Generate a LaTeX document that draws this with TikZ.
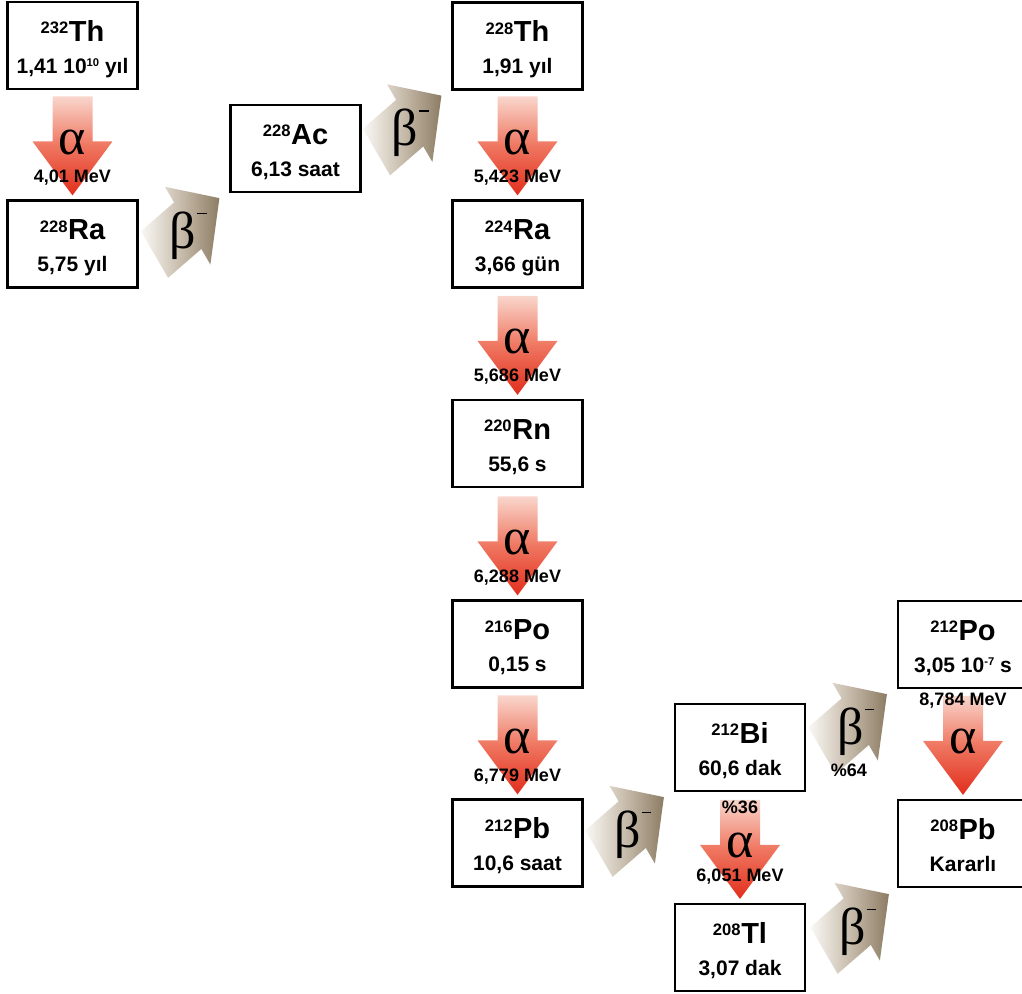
\documentclass[tikz,border=0pt]{standalone}
\usepackage{fontspec}
\setmainfont{Liberation Sans}
\newfontfamily\greekfont{Liberation Serif}
\usetikzlibrary{calc}

\definecolor{alphatop}{RGB}{249,214,204}
\definecolor{alphamid}{RGB}{239,118,96}
\definecolor{alphabot}{RGB}{225,46,28}
\definecolor{betalight}{RGB}{250,248,245}
\definecolor{betamid}{RGB}{200,189,172}
\definecolor{betadark}{RGB}{140,124,100}

% mass number + symbol, then half life
\newcommand{\iso}[2]{\raisebox{3.7pt}{\fontsize{8.3}{8.3}\selectfont #1}\kern0.3pt{\fontsize{14.5}{16}\selectfont #2}}
\newcommand{\pw}[1]{\raisebox{3.3pt}{\fontsize{5.6}{5.6}\selectfont #1}}
\newcommand{\nuclide}[3]{\rule{0pt}{14pt}\iso{#1}{#2}\\#3\rule[-2.5pt]{0pt}{2.5pt}}

\tikzset{
  box/.style={draw, line width=1.1pt, fill=white, minimum width=65pt, minimum height=43.5pt,
    inner sep=0pt, align=center, font=\bfseries\fontsize{10.5}{16}\selectfont},
  mev/.style={font=\bfseries\fontsize{9}{9}\selectfont, inner sep=0pt, anchor=base},
  greek/.style={font=\greekfont\mdseries\fontsize{26}{26}\selectfont, inner sep=0pt, anchor=base},
  alphafill/.style={top color=alphatop, bottom color=alphabot, middle color=alphamid},
  betafill/.style={left color=betalight, right color=betadark, middle color=betamid},
  alphaarrow/.pic={
    \shade[alphafill] (-20,99) -- (20,99) -- (20,54) -- (40,54) -- (0,0) -- (-40,54) -- (-20,54) -- cycle;
    \node[greek] (-sym) at (0,41) {α};
  },
  betaarrow/.pic={
    \shade[betafill, cm={0.755,0.656,-0.504,0.863,(0,0)}] (0,0) -- (-42,45) -- (-42,27) -- (-86,27)
      -- (-86,-27) -- (-42,-27) -- (-42,-45) -- cycle;
    \node[greek] (-sym) at (-31,-50) {β\kern0.5pt\rule[17pt]{4.8pt}{0.7pt}};
  },
}

\begin{document}
\begin{tikzpicture}[x=0.5pt, y=0.5pt]
\useasboundingbox (0,0) rectangle (1022,-993);
\clip (0,0) rectangle (1022,-993);

% nuclides
\node[box] (th232) at (72.5,-45.5) {\nuclide{232}{Th}{1,41 10\pw{10} yıl}};
\node[box] (ra228) at (72.5,-244) {\nuclide{228}{Ra}{5,75 yıl}};
\node[box] (ac228) at (295.5,-148.5) {\nuclide{228}{Ac}{6,13 saat}};
\node[box] (th228) at (517.5,-46) {\nuclide{228}{Th}{1,91 yıl}};
\node[box] (ra224) at (517.5,-244) {\nuclide{224}{Ra}{3,66 gün}};
\node[box] (rn220) at (517.5,-443.5) {\nuclide{220}{Rn}{55,6 s}};
\node[box] (po216) at (517.5,-644) {\nuclide{216}{Po}{0,15 s}};
\node[box] (pb212) at (517.5,-843) {\nuclide{212}{Pb}{10,6 saat}};
\node[box] (bi212) at (740,-747.5) {\nuclide{212}{Bi}{60,6 dak}};
\node[box] (tl208) at (740,-947.5) {\nuclide{208}{Tl}{3,07 dak}};
\node[box] (po212) at (963,-644.5) {\nuclide{212}{Po}{3,05 10\pw{-7} s}};
\node[box] (pb208) at (963,-843.5) {\nuclide{208}{Pb}{Kararlı}};

% alpha decays
\pic (a1) at ($(ra228.north)+(0,4)$) {alphaarrow};
\pic (a2) at ($(ra224.north)+(0,4)$) {alphaarrow};
\pic (a3) at ($(rn220.north)+(0,4)$) {alphaarrow};
\pic (a4) at ($(po216.north)+(0,4)$) {alphaarrow};
\pic (a5) at ($(pb212.north)+(0,4)$) {alphaarrow};
\pic (a6) at ($(tl208.north)+(0,4)$) {alphaarrow};
\pic (a7) at ($(pb208.north)+(0,4)$) {alphaarrow};
\node[mev] (e1) at ($(ra228.north)+(0,17)$) {4,01 MeV};
\node[mev] (e2) at ($(ra224.north)+(0,17)$) {5,423 MeV};
\node[mev] (e3) at ($(rn220.north)+(0,17)$) {5,686 MeV};
\node[mev] (e4) at ($(po216.north)+(0,17)$) {6,288 MeV};
\node[mev] (e5) at ($(pb212.north)+(0,17)$) {6,779 MeV};
\node[mev] (e6) at ($(tl208.north)+(0,21)$) {6,051 MeV};
\node[mev] (e7) at ($(pb208.north)+(0,93)$) {8,784 MeV};
\node[mev] (p36) at ($(tl208.north)+(0,89)$) {\%36};

% beta decays
\pic (b1) at ($(ac228.south west)+(-10,-5)$) {betaarrow};
\pic (b2) at ($(th228.south west)+(-10,-5)$) {betaarrow};
\pic (b3) at ($(bi212.south west)+(-10,-5)$) {betaarrow};
\pic (b4) at ($(po212.south west)+(-10,-5)$) {betaarrow};
\pic (b5) at ($(pb208.south west)+(-8,-6)$) {betaarrow};
\node[mev] (p64) at ($(po212.south west)+(-48,-87)$) {\%64};
\end{tikzpicture}
\end{document}
